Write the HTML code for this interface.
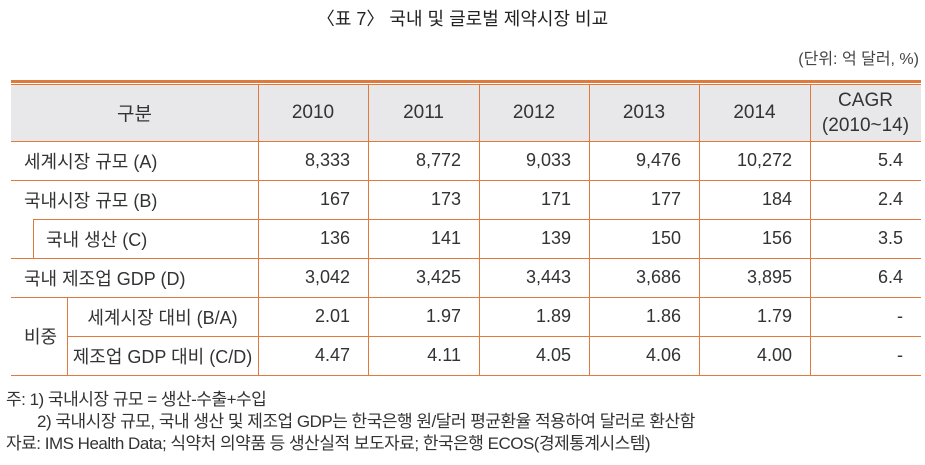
<!DOCTYPE html>
<html><head><meta charset="utf-8"><style>
body{margin:0;width:925px;height:465px;background:#fff;position:relative;overflow:hidden;font-family:"Liberation Sans","Noto Sans CJK KR",sans-serif;color:#333;}
.a{position:absolute;white-space:nowrap;}
.h{position:absolute;background:#e07a3c;height:1px;}
.v{position:absolute;background:#e07a3c;width:1px;}
.c{position:absolute;font-size:18px;display:flex;align-items:center;white-space:nowrap;}
.r{justify-content:flex-end;}
.m{justify-content:center;text-align:center;}
</style></head><body>
<div class="a" style="left:0;width:925px;top:5px;text-align:center;font-size:18px;color:#222;">〈표 7〉 국내 및 글로벌 제약시장 비교</div>
<div class="a" style="right:6px;top:45px;font-size:16px;color:#444;">(단위: 억 달러, %)</div>
<div style="position:absolute;left:11px;top:84px;width:910px;height:57px;background:#e8e8ea;"></div>
<div class="h" style="left:11px;width:910px;top:80px;height:3px;"></div>
<div class="h" style="left:11px;width:910px;top:84px;"></div>
<div class="h" style="left:11px;width:910px;top:141px;"></div>
<div class="h" style="left:11px;width:910px;top:180px;"></div>
<div class="h" style="left:33px;width:888px;top:219px;"></div>
<div class="h" style="left:11px;width:910px;top:258px;"></div>
<div class="h" style="left:11px;width:910px;top:297px;"></div>
<div class="h" style="left:67px;width:854px;top:336px;"></div>
<div class="h" style="left:11px;width:910px;top:375px;"></div>
<div class="v" style="left:258px;top:84px;height:291px;"></div>
<div class="v" style="left:368px;top:84px;height:291px;"></div>
<div class="v" style="left:479px;top:84px;height:291px;"></div>
<div class="v" style="left:589px;top:84px;height:291px;"></div>
<div class="v" style="left:699px;top:84px;height:291px;"></div>
<div class="v" style="left:810px;top:84px;height:291px;"></div>
<div class="v" style="left:33px;top:219px;height:39px;"></div>
<div class="v" style="left:67px;top:297px;height:78px;"></div>

<div class="c m" style="left:11px;width:247px;top:84px;height:57px;font-size:19px;">구분</div>
<div class="c m" style="left:258px;width:110px;top:84px;height:57px;font-size:19px;">2010</div>
<div class="c m" style="left:368px;width:111px;top:84px;height:57px;font-size:19px;">2011</div>
<div class="c m" style="left:479px;width:110px;top:84px;height:57px;font-size:19px;">2012</div>
<div class="c m" style="left:589px;width:110px;top:84px;height:57px;font-size:19px;">2013</div>
<div class="c m" style="left:699px;width:111px;top:84px;height:57px;font-size:19px;">2014</div>
<div class="c m" style="left:810px;width:111px;top:84px;height:57px;line-height:25px;font-size:19px;">CAGR<br>(2010~14)</div>

<div class="c" style="left:24px;top:141px;height:39px;">세계시장 규모 (A)</div>
<div class="c" style="left:24px;top:180px;height:39px;">국내시장 규모 (B)</div>
<div class="c" style="left:46px;top:219px;height:39px;">국내 생산 (C)</div>
<div class="c" style="left:24px;top:258px;height:39px;">국내 제조업 GDP (D)</div>
<div class="c" style="left:24px;top:297px;height:78px;">비중</div>
<div class="c m" style="left:67px;width:191px;top:297px;height:39px;">세계시장 대비 (B/A)</div>
<div class="c m" style="left:67px;width:191px;top:336px;height:39px;">제조업 GDP 대비 (C/D)</div>

<div id="d"></div>
<script>
var rows=[["8,333","8,772","9,033","9,476","10,272","5.4"],["167","173","171","177","184","2.4"],["136","141","139","150","156","3.5"],["3,042","3,425","3,443","3,686","3,895","6.4"],["2.01","1.97","1.89","1.86","1.79","-"],["4.47","4.11","4.05","4.06","4.00","-"]];
var rights=[350,461,571,681,792,903],h='';
rows.forEach(function(r,i){r.forEach(function(v,j){h+='<div class="c r" style="right:'+(925-rights[j])+'px;top:'+(141+39*i)+'px;height:39px;">'+v+'</div>';});});
document.getElementById('d').innerHTML=h;
</script>
<div class="a" style="left:6px;top:385px;font-size:17px;letter-spacing:-0.5px;">주: 1) 국내시장 규모 = 생산-수출+수입</div>
<div class="a" style="left:37px;top:407px;font-size:17px;letter-spacing:-0.5px;">2) 국내시장 규모, 국내 생산 및 제조업 GDP는 한국은행 원/달러 평균환율 적용하여 달러로 환산함</div>
<div class="a" style="left:6px;top:429px;font-size:17px;letter-spacing:-0.5px;">자료: IMS Health Data; 식약처 의약품 등 생산실적 보도자료; 한국은행 ECOS(경제통계시스템)</div>
</body></html>
